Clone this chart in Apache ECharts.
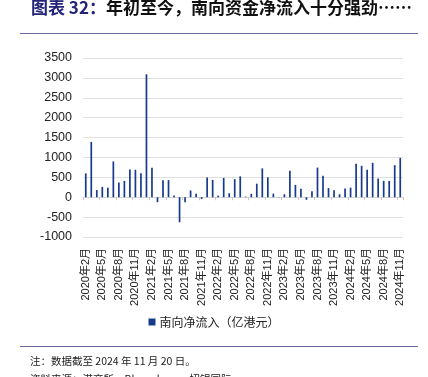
<!DOCTYPE html>
<html>
<head>
<meta charset="utf-8">
<script src="https://cdn.jsdelivr.net/npm/echarts@6/dist/echarts.min.js"></script>
<style>
    html, body {margin: 0; padding: 0; background: #fff;}
    #chart {width: 428px; height: 377px;}
</style>
</head>
<body>
<div id="chart"></div>
<script>
    // 月份：2020年2月 至 2024年11月
    var years = [2020, 2021, 2022, 2023, 2024];
    var categories = [];
    years.forEach(function (y) {
        for (var m = 1; m <= 12; m++) {
            if (y === 2020 && m < 2) continue;
            if (y === 2024 && m > 11) continue;
            categories.push(y + '年' + m + '月');
        }
    });

    // 南向净流入（亿港元）
    var flow2020 = [600, 1390, 180, 260, 240, 900, 370, 410, 700, 690, 600];
    var flow2021 = [3090, 740, -125, 425, 430, 45, -630, -125, 170, 90, -45, 495];
    var flow2022 = [435, 40, 485, 100, 455, 525, 15, 85, 340, 725, 500, 90];
    var flow2023 = [3, 75, 665, 310, 215, -65, 150, 745, 540, 230, 175, 75];
    var flow2024 = [220, 240, 840, 790, 690, 865, 470, 410, 410, 805, 990];
    var southFlow = [].concat(flow2020, flow2021, flow2022, flow2023, flow2024);

    var yTicks = {min: -1000, max: 3500, interval: 500};

    var latin = '"Liberation Sans", "Noto Sans CJK SC", sans-serif';
    var cjk = '"Noto Sans CJK SC", sans-serif';
    var barColor = '#173a8c';

    var myChart = echarts.init(document.getElementById('chart'));
    var option = {
        animation: false,
        textStyle: {fontFamily: latin},
        grid: {left: 83, right: 25, top: 58, bottom: 140},
        legend: {
            data: ['南向净流入（亿港元）'],
            top: 311,
            left: 'center',
            icon: 'rect',
            itemWidth: 7,
            itemHeight: 7,
            itemGap: 4,
            textStyle: {fontFamily: cjk, fontSize: 12, color: '#222', padding: [0, 0, 0, -1]}
        },
        xAxis: [
            {
                // 标签在底部
                type: 'category',
                data: categories,
                position: 'bottom',
                axisLine: {show: false, onZero: false},
                axisTick: {show: false},
                axisLabel: {
                    interval: 2,
                    rotate: 90,
                    margin: 11,
                    fontSize: 11,
                    color: '#222',
                    fontFamily: latin
                }
            },
            {
                // 零轴 + 刻度
                type: 'category',
                data: categories,
                position: 'bottom',
                axisLine: {show: true, onZero: true, lineStyle: {color: '#d4d4d4', width: 1}},
                axisTick: {show: true, interval: 2, length: 3, lineStyle: {color: '#c8c8c8'}},
                axisLabel: {show: false}
            }
        ],
        yAxis: {
            type: 'value',
            min: yTicks.min,
            max: yTicks.max,
            interval: yTicks.interval,
            axisLine: {show: false},
            axisTick: {show: false},
            axisLabel: {
                fontSize: 12.5, color: '#222', margin: 11, fontFamily: latin,
                formatter: function (v) { return String(v); }
            },
            splitLine: {lineStyle: {color: '#e0e0e0', width: 1}}
        },
        series: [
            {
                name: '南向净流入（亿港元）',
                type: 'bar',
                xAxisIndex: 0,
                barWidth: 1.7,
                itemStyle: {color: barColor},
                data: southFlow
            }
        ],
        graphic: [
            {
                type: 'text', left: 31, top: -1,
                style: {
                    text: '{a|图表 32：}{b|年初至今，南向资金净流入十分强劲……}',
                    rich: {
                        a: {fontFamily: cjk, fontSize: 17, fontWeight: 'bold', fill: '#23237a'},
                        b: {fontFamily: cjk, fontSize: 17, fontWeight: 'bold', fill: '#111'}
                    }
                }
            },
            {type: 'line', shape: {x1: 20, y1: 33.5, x2: 418, y2: 33.5}, style: {stroke: '#6b6b9e', lineWidth: 1}},
            {type: 'line', shape: {x1: 20, y1: 346.5, x2: 418, y2: 346.5}, style: {stroke: '#6b6b9e', lineWidth: 1}},
            {
                type: 'text', left: 30, top: 356,
                style: {text: '注：数据截至 2024 年 11 月 20 日。', fontFamily: cjk, fontSize: 10.5, fill: '#222'}
            },
            {
                type: 'text', left: 30, top: 374,
                style: {text: '资料来源：港交所，Bloomberg，招银国际', fontFamily: cjk, fontSize: 10.5, fill: '#222'}
            }
        ]
    };
    myChart.setOption(option);
</script>
</body>
</html>
